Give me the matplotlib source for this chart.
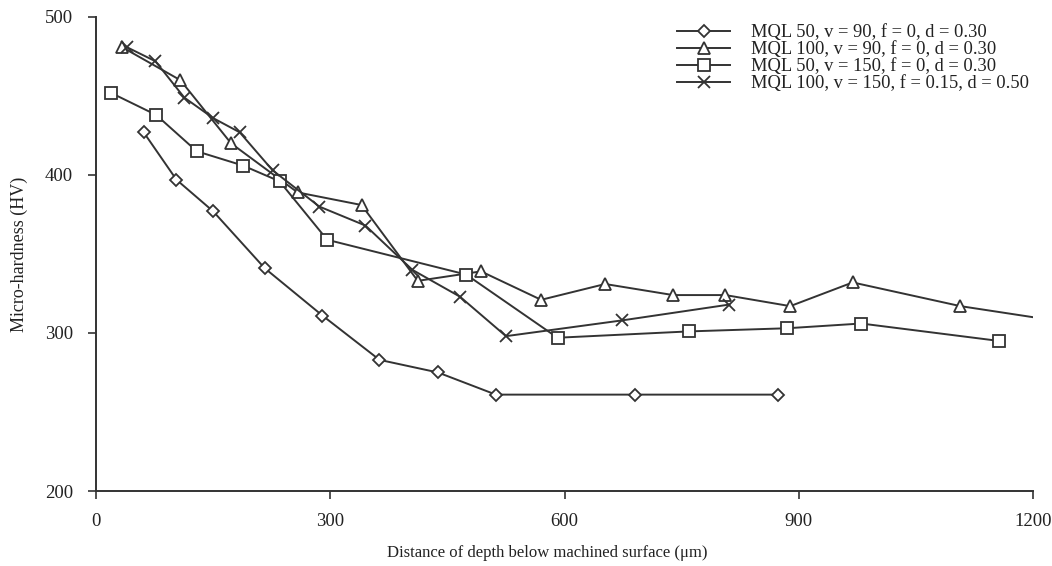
import numpy as np
import matplotlib.pyplot as plt
import matplotlib

plt.rcParams['font.family'] = ['Liberation Serif', 'DejaVu Serif']
plt.rcParams['mathtext.fontset'] = 'stix'

# Data
x_mql50_v90 = [61, 103, 150, 216, 290, 363, 438, 512, 690, 873]
y_mql50_v90 = [427, 397, 377, 341, 311, 283, 275, 261, 261, 261]

x_mql100_v90 = [33, 108, 173, 258, 340, 412, 493, 570, 652, 739, 806, 889, 969, 1107, 1200]
y_mql100_v90 = [481, 460, 420, 389, 381, 333, 339, 321, 331, 324, 324, 317, 332, 317, 310]

x_mql50_v150 = [19, 77, 129, 188, 235, 296, 474, 591, 759, 885, 980, 1156]
y_mql50_v150 = [452, 438, 415, 406, 396, 359, 337, 297, 301, 303, 306, 295]

x_mql100_v150 = [39, 76, 113, 150, 184, 226, 286, 345, 405, 466, 525, 674, 811]
y_mql100_v150 = [481, 472, 449, 436, 427, 403, 380, 368, 340, 323, 298, 308, 318]

labels = ['MQL 50, v = 90, f = 0, d = 0.30',
          'MQL 100, v = 90, f = 0, d = 0.30',
          'MQL 50, v = 150, f = 0, d = 0.30',
          'MQL 100, v = 150, f = 0.15, d = 0.50']

col = '#333333'
txt = '#222222'
fig = plt.figure(figsize=(10.52, 5.66), dpi=100)
ax = fig.add_axes([0.0913, 0.1325, 0.8907, 0.8375])

common = dict(color=col, lw=1.4, mfc='white', mec=col, mew=1.3)
ax.plot(x_mql50_v90, y_mql50_v90, marker='D', ms=6.3, label=labels[0], **common)
ax.plot(x_mql100_v90, y_mql100_v90, marker='^', ms=8.5,
        markevery=list(range(len(x_mql100_v90) - 1)), label=labels[1], **common)
ax.plot(x_mql50_v150, y_mql50_v150, marker='s', ms=8, label=labels[2], **common)
ax.plot(x_mql100_v150, y_mql100_v150, marker='x', ms=9, label=labels[3], **common)

ax.set_xlim(0, 1200)
ax.set_ylim(200, 500)
ax.set_xticks([0, 300, 600, 900, 1200])
ax.set_yticks([200, 300, 400, 500])
for s in ['top', 'right']:
    ax.spines[s].set_visible(False)
for s in ['left', 'bottom']:
    ax.spines[s].set_color(col)
    ax.spines[s].set_linewidth(1.4)
ax.tick_params(colors=col, labelcolor=txt, labelsize=13.5, length=6, width=1.2)
ax.tick_params(axis='x', pad=10)
ax.tick_params(axis='y', pad=10.5)

ax.set_xlabel('Distance of depth below machined surface (\u03bcm)', fontsize=12, color=txt)
ax.xaxis.set_label_coords(0.482, -0.113)
ax.set_ylabel('Micro-hardness (HV)', fontsize=13, color=txt, labelpad=12)

leg = ax.legend(loc='upper right', bbox_to_anchor=(1.013, 1.02), frameon=False, fontsize=13.3,
                handlelength=2.9, labelspacing=0.0, handletextpad=1.1)
for t in leg.get_texts():
    t.set_color(txt)

fig.savefig('out.png', dpi=100)
